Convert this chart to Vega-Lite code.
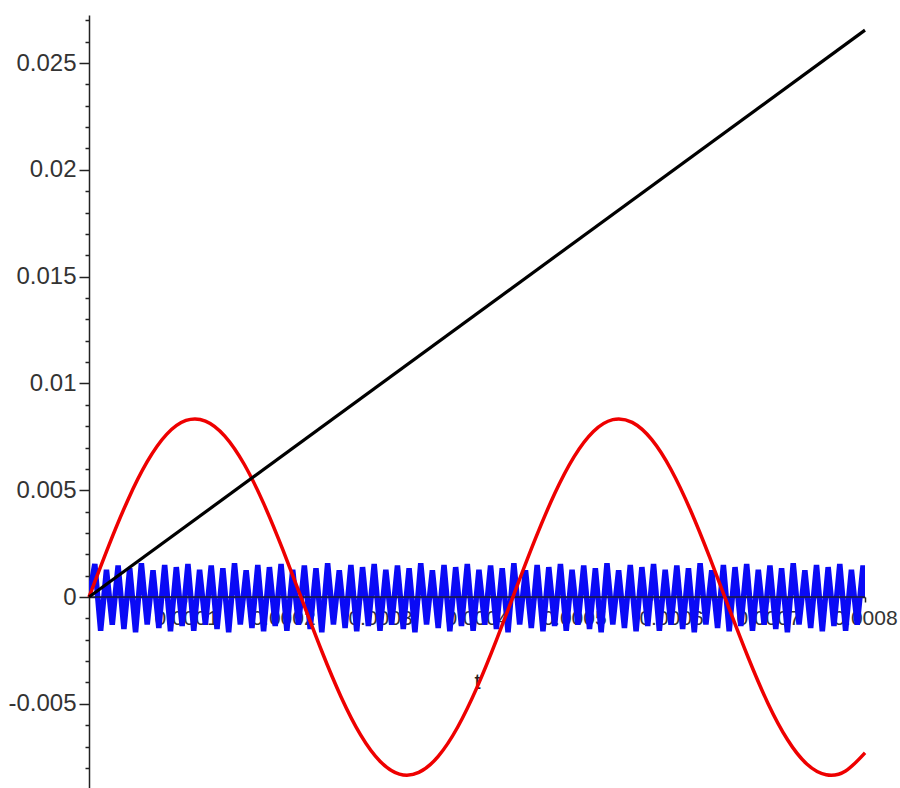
{
"$schema": "https://vega.github.io/schema/vega-lite/v6.json",
"width": 776, "height": 773,
"autosize": {"type": "none"},
"padding": {"left": 89, "top": 15, "right": 35, "bottom": 0},
"background": "white",
"config": {"view": {"stroke": null}, "axis": {"grid": false, "labelFont": "Liberation Sans", "labelFontSize": 24, "labelColor": "#333", "domainColor": "#222", "tickColor": "#222", "domainWidth": 1.5, "tickWidth": 1.5, "titleFont": "Liberation Sans", "titleFontWeight": "normal", "titleColor": "#222", "labelFlush": false}},
"datasets": {
"blue": [
{"t":0,"v":0},
{"t":0.000006,"v":0.00155},{"t":0.000012,"v":-0.00158},{"t":0.000018,"v":0.00128},{"t":0.000024,"v":-0.0013},{"t":0.00003,"v":0.00148},{"t":0.000036,"v":-0.0015},{"t":0.000042,"v":0.00135},{"t":0.000048,"v":-0.00165},{"t":0.000054,"v":0.00158},{"t":0.00006,"v":-0.00128},{"t":0.000066,"v":0.00125},{"t":0.000072,"v":-0.00145},{"t":0.000078,"v":0.0015},{"t":0.000084,"v":-0.0016},{"t":0.00009,"v":0.0014},{"t":0.000096,"v":-0.00135},
{"t":0.000102,"v":0.00155},{"t":0.000108,"v":-0.00158},{"t":0.000114,"v":0.00128},{"t":0.00012,"v":-0.0013},{"t":0.000126,"v":0.00148},{"t":0.000132,"v":-0.0015},{"t":0.000138,"v":0.00135},{"t":0.000144,"v":-0.00165},{"t":0.00015,"v":0.00158},{"t":0.000156,"v":-0.00128},{"t":0.000162,"v":0.00125},{"t":0.000168,"v":-0.00145},{"t":0.000174,"v":0.0015},{"t":0.00018,"v":-0.0016},{"t":0.000186,"v":0.0014},{"t":0.000192,"v":-0.00135},
{"t":0.000198,"v":0.00155},{"t":0.000204,"v":-0.00158},{"t":0.00021,"v":0.00128},{"t":0.000216,"v":-0.0013},{"t":0.000222,"v":0.00148},{"t":0.000228,"v":-0.0015},{"t":0.000234,"v":0.00135},{"t":0.00024,"v":-0.00165},{"t":0.000246,"v":0.00158},{"t":0.000252,"v":-0.00128},{"t":0.000258,"v":0.00125},{"t":0.000264,"v":-0.00145},{"t":0.00027,"v":0.0015},{"t":0.000276,"v":-0.0016},{"t":0.000282,"v":0.0014},{"t":0.000288,"v":-0.00135},
{"t":0.000294,"v":0.00155},{"t":0.0003,"v":-0.00158},{"t":0.000306,"v":0.00128},{"t":0.000312,"v":-0.0013},{"t":0.000318,"v":0.00148},{"t":0.000324,"v":-0.0015},{"t":0.00033,"v":0.00135},{"t":0.000336,"v":-0.00165},{"t":0.000342,"v":0.00158},{"t":0.000348,"v":-0.00128},{"t":0.000354,"v":0.00125},{"t":0.00036,"v":-0.00145},{"t":0.000366,"v":0.0015},{"t":0.000372,"v":-0.0016},{"t":0.000378,"v":0.0014},{"t":0.000384,"v":-0.00135},
{"t":0.00039,"v":0.00155},{"t":0.000396,"v":-0.00158},{"t":0.000402,"v":0.00128},{"t":0.000408,"v":-0.0013},{"t":0.000414,"v":0.00148},{"t":0.00042,"v":-0.0015},{"t":0.000426,"v":0.00135},{"t":0.000432,"v":-0.00165},{"t":0.000438,"v":0.00158},{"t":0.000444,"v":-0.00128},{"t":0.00045,"v":0.00125},{"t":0.000456,"v":-0.00145},{"t":0.000462,"v":0.0015},{"t":0.000468,"v":-0.0016},{"t":0.000474,"v":0.0014},{"t":0.00048,"v":-0.00135},
{"t":0.000486,"v":0.00155},{"t":0.000492,"v":-0.00158},{"t":0.000498,"v":0.00128},{"t":0.000504,"v":-0.0013},{"t":0.00051,"v":0.00148},{"t":0.000516,"v":-0.0015},{"t":0.000522,"v":0.00135},{"t":0.000528,"v":-0.00165},{"t":0.000534,"v":0.00158},{"t":0.00054,"v":-0.00128},{"t":0.000546,"v":0.00125},{"t":0.000552,"v":-0.00145},{"t":0.000558,"v":0.0015},{"t":0.000564,"v":-0.0016},{"t":0.00057,"v":0.0014},{"t":0.000576,"v":-0.00135},
{"t":0.000582,"v":0.00155},{"t":0.000588,"v":-0.00158},{"t":0.000594,"v":0.00128},{"t":0.0006,"v":-0.0013},{"t":0.000606,"v":0.00148},{"t":0.000612,"v":-0.0015},{"t":0.000618,"v":0.00135},{"t":0.000624,"v":-0.00165},{"t":0.00063,"v":0.00158},{"t":0.000636,"v":-0.00128},{"t":0.000642,"v":0.00125},{"t":0.000648,"v":-0.00145},{"t":0.000654,"v":0.0015},{"t":0.00066,"v":-0.0016},{"t":0.000666,"v":0.0014},{"t":0.000672,"v":-0.00135},
{"t":0.000678,"v":0.00155},{"t":0.000684,"v":-0.00158},{"t":0.00069,"v":0.00128},{"t":0.000696,"v":-0.0013},{"t":0.000702,"v":0.00148},{"t":0.000708,"v":-0.0015},{"t":0.000714,"v":0.00135},{"t":0.00072,"v":-0.00165},{"t":0.000726,"v":0.00158},{"t":0.000732,"v":-0.00128},{"t":0.000738,"v":0.00125},{"t":0.000744,"v":-0.00145},{"t":0.00075,"v":0.0015},{"t":0.000756,"v":-0.0016},{"t":0.000762,"v":0.0014},{"t":0.000768,"v":-0.00135},
{"t":0.000774,"v":0.00155},{"t":0.00078,"v":-0.00158},{"t":0.000786,"v":0.00128},{"t":0.000792,"v":-0.0013},{"t":0.000798,"v":0.00148},{"t":0.0008,"v":0.0}
],
"red": [
{"t":0,"v":0},{"t":0.00002,"v":0.002365},{"t":0.00004,"v":0.004536},{"t":0.00006,"v":0.006335},{"t":0.00008,"v":0.007614},{"t":0.0001,"v":0.008267},{"t":0.00012,"v":0.008241},{"t":0.00014,"v":0.007538},{"t":0.00016,"v":0.006217},{"t":0.00018,"v":0.004384},{"t":0.0002,"v":0.002193},
{"t":0.00022,"v":-0.00018},{"t":0.00024,"v":-0.002537},{"t":0.00026,"v":-0.004687},{"t":0.00028,"v":-0.006451},{"t":0.0003,"v":-0.007685},{"t":0.00032,"v":-0.008288},{"t":0.00034,"v":-0.008211},{"t":0.00036,"v":-0.007459},{"t":0.00038,"v":-0.006096},{"t":0.0004,"v":-0.004231},
{"t":0.00042,"v":-0.002018},{"t":0.00044,"v":0.000359},{"t":0.00046,"v":0.002708},{"t":0.00048,"v":0.004834},{"t":0.0005,"v":0.006563},{"t":0.00052,"v":0.007753},{"t":0.00054,"v":0.008307},{"t":0.00056,"v":0.008177},{"t":0.00058,"v":0.007378},{"t":0.0006,"v":0.005971},
{"t":0.00062,"v":0.004074},{"t":0.00064,"v":0.001843},{"t":0.00066,"v":-0.00054},{"t":0.00068,"v":-0.002878},{"t":0.0007,"v":-0.004979},{"t":0.00072,"v":-0.00667},{"t":0.00074,"v":-0.007818},{"t":0.00076,"v":-0.008321},{"t":0.00078,"v":-0.008141},{"t":0.0008,"v":-0.007292}
],
"black": [{"t":0,"v":0},{"t":0.0008,"v":0.02654}],
"zero": [{"t":0,"v":0},{"t":0.0008,"v":0}]
},
"layer": [
{"data": {"name": "blue"}, "mark": {"type": "line", "color": "#0a0af5", "strokeWidth": 5.5, "strokeJoin": "miter", "clip": true},
 "encoding": {
  "x": {"field": "t", "type": "quantitative", "scale": {"domain": [0, 0.0008], "nice": false, "zero": false},
        "axis": {"orient": "bottom", "offset": -191, "values": [0.0001,0.0002,0.0003,0.0004,0.0005,0.0006,0.0007,0.0008], "labelExpr": "'' + datum.value", "labelFontSize": 21, "tickSize": 5, "labelPadding": 5, "labelOverlap": false, "title": "t", "titleFontSize": 22, "titleBaseline": "middle", "titleY": 84}},
  "y": {"field": "v", "type": "quantitative", "scale": {"domain": [-0.00894, 0.02725], "nice": false, "zero": false},
        "axis": {"orient": "left", "values": [-0.005,0,0.005,0.01,0.015,0.02,0.025], "labelExpr": "'' + datum.value", "tickSize": 10, "labelPadding": 3, "labelOverlap": false, "title": null}}
 }},
{"data": {"name": "zero"}, "mark": {"type": "line", "color": "#222", "strokeWidth": 1.5, "opacity": 0},
 "encoding": {
  "x": {"field": "t", "type": "quantitative", "scale": {"domain": [0, 0.0008], "nice": false, "zero": false},
        "axis": {"orient": "bottom", "offset": -191, "values": [0.00002,0.00004,0.00006,0.00008,0.00012,0.00014,0.00016,0.00018,0.00022,0.00024,0.00026,0.00028,0.00032,0.00034,0.00036,0.00038,0.00042,0.00044,0.00046,0.00048,0.00052,0.00054,0.00056,0.00058,0.00062,0.00064,0.00066,0.00068,0.00072,0.00074,0.00076,0.00078], "labels": false, "domain": false, "tickSize": 3, "title": null}},
  "y": {"field": "v", "type": "quantitative", "scale": {"domain": [-0.00894, 0.02725], "nice": false, "zero": false},
        "axis": {"orient": "left", "values": [-0.008,-0.007,-0.006,-0.004,-0.003,-0.002,-0.001,0.001,0.002,0.003,0.004,0.006,0.007,0.008,0.009,0.011,0.012,0.013,0.014,0.016,0.017,0.018,0.019,0.021,0.022,0.023,0.024,0.026,0.027], "labels": false, "domain": false, "tickSize": 4, "title": null}}
 }},
{"data": {"name": "zero"}, "mark": {"type": "line", "color": "#1a1a3a", "strokeWidth": 1.5},
 "encoding": {
  "x": {"field": "t", "type": "quantitative", "scale": {"domain": [0, 0.0008], "nice": false, "zero": false}, "axis": null},
  "y": {"field": "v", "type": "quantitative", "scale": {"domain": [-0.00894, 0.02725], "nice": false, "zero": false}, "axis": null}
 }},
{"data": {"name": "red"}, "mark": {"type": "line", "color": "#ee0000", "strokeWidth": 3.5, "interpolate": "natural"},
 "encoding": {
  "x": {"field": "t", "type": "quantitative", "scale": {"domain": [0, 0.0008], "nice": false, "zero": false}, "axis": null},
  "y": {"field": "v", "type": "quantitative", "scale": {"domain": [-0.00894, 0.02725], "nice": false, "zero": false}, "axis": null}
 }},
{"data": {"name": "black"}, "mark": {"type": "line", "color": "#000000", "strokeWidth": 3.2},
 "encoding": {
  "x": {"field": "t", "type": "quantitative", "scale": {"domain": [0, 0.0008], "nice": false, "zero": false}, "axis": null},
  "y": {"field": "v", "type": "quantitative", "scale": {"domain": [-0.00894, 0.02725], "nice": false, "zero": false}, "axis": null}
 }}
],
"resolve": {"axis": {"x": "independent", "y": "independent"}}
}
